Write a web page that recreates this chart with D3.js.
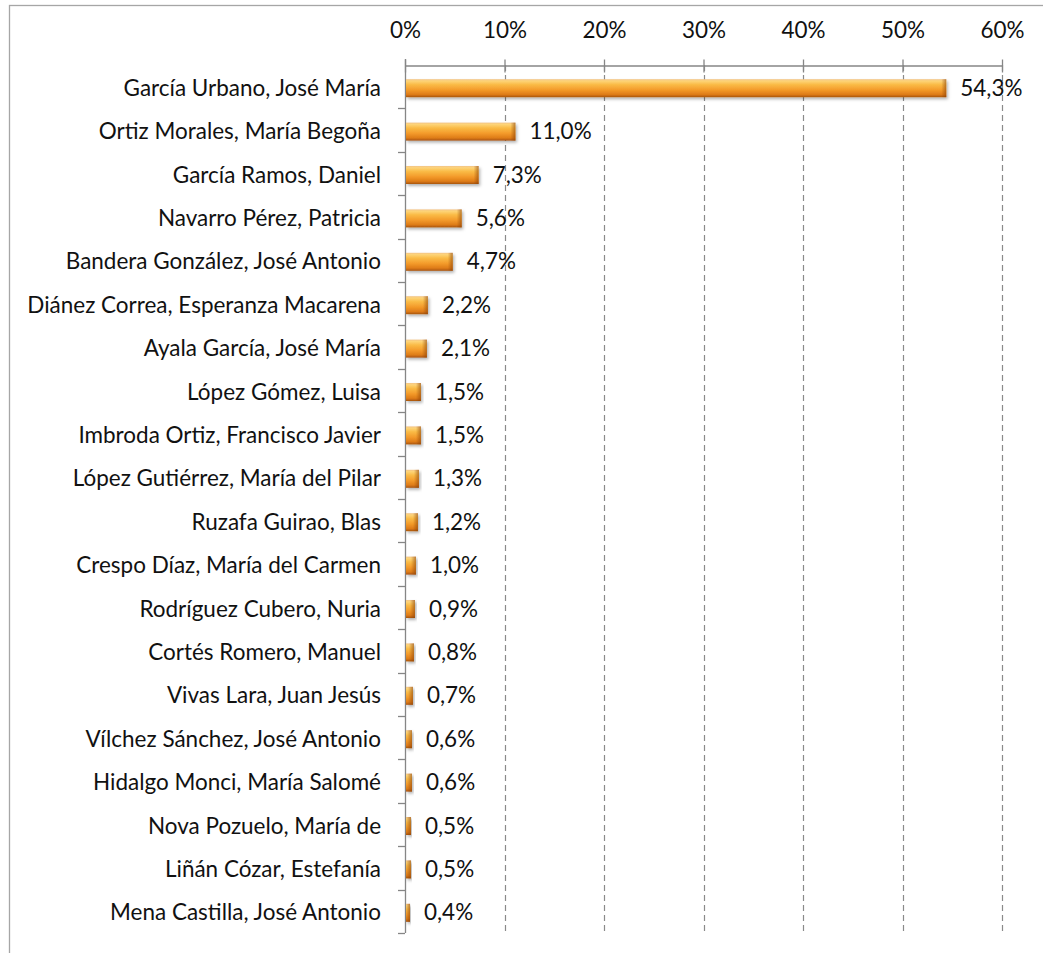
<!DOCTYPE html>
<html><head><meta charset="utf-8">
<script src="https://cdn.jsdelivr.net/npm/d3@7"></script>
<style>body{margin:0;background:#fff}svg{display:block}</style>
</head><body>
<svg id="c" width="1043" height="953"></svg>
<script>
const categories = ["García Urbano, José María","Ortiz Morales, María Begoña","García Ramos, Daniel","Navarro Pérez, Patricia","Bandera González, José Antonio","Diánez Correa, Esperanza Macarena","Ayala García, José María","López Gómez, Luisa","Imbroda Ortiz, Francisco Javier","López Gutiérrez, María del Pilar","Ruzafa Guirao, Blas","Crespo Díaz, María del Carmen","Rodríguez Cubero, Nuria","Cortés Romero, Manuel","Vivas Lara, Juan Jesús","Vílchez Sánchez, José Antonio","Hidalgo Monci, María Salomé","Nova Pozuelo, María de","Liñán Cózar, Estefanía","Mena Castilla, José Antonio"];
const values = [54.3,11.0,7.3,5.6,4.7,2.2,2.1,1.5,1.5,1.3,1.2,1.0,0.9,0.8,0.7,0.6,0.6,0.5,0.5,0.4];
const tickValues = [0,10,20,30,40,50,60];
const tickLabels = ["0%","10%","20%","30%","40%","50%","60%"];

const FONT = "Lato, 'Open Sans', sans-serif";
const svg = d3.select("#c");
const x = d3.scaleLinear().domain([0,60]).range([405,1002]);
const y = d3.scaleBand().domain(categories).range([65,933]).padding(0);

// defs
const defs = svg.append("defs");
const g1 = defs.append("linearGradient").attr("id","bar").attr("x1",0).attr("y1",0).attr("x2",0).attr("y2",1);
[[0,"#f3c488"],[0.1,"#fdd478"],[0.3,"#fabb46"],[0.6,"#f39a2a"],[0.85,"#de7c18"],[1,"#a8540e"]].forEach(s=>g1.append("stop").attr("offset",s[0]).attr("stop-color",s[1]));
const g2 = defs.append("linearGradient").attr("id","cap").attr("x1",0).attr("y1",0).attr("x2",1).attr("y2",0);
[[0,"rgba(140,65,5,0)"],[1,"rgba(140,65,5,0.6)"]].forEach(s=>g2.append("stop").attr("offset",s[0]).attr("stop-color",s[1]));
const f = defs.append("filter").attr("id","sh").attr("x","-20%").attr("y","-40%").attr("width","140%").attr("height","200%");
f.append("feDropShadow").attr("dx",1.5).attr("dy",2).attr("stdDeviation",1.5).attr("flood-color","#000").attr("flood-opacity",0.3);

// border
svg.append("rect").attr("x",9.5).attr("y",5.5).attr("width",1060).attr("height",1000)
  .attr("fill","none").attr("stroke","#a6a6a6").attr("stroke-width",1.3);

// grid
svg.append("g").selectAll("line").data(tickValues.slice(1)).join("line")
  .attr("x1",d=>Math.round(x(d))+0.5).attr("x2",d=>Math.round(x(d))+0.5)
  .attr("y1",65).attr("y2",933).attr("stroke","#8a8a8a").attr("stroke-width",1.2)
  .attr("stroke-dasharray","6,4");

// top axis
const xa = svg.append("g").attr("transform","translate(0,65.5)")
  .call(d3.axisTop(x).tickValues(tickValues).tickFormat((d,i)=>tickLabels[i]).tickSizeInner(6).tickSizeOuter(0).tickPadding(22));
xa.select(".domain").attr("stroke","#868686").attr("stroke-width",1.3);
xa.selectAll(".tick line").attr("stroke","#868686").attr("stroke-width",1.3).attr("y2",-6).attr("y1",7);
xa.selectAll(".tick text").attr("font-family",FONT).attr("font-size",19).attr("fill","#111");

// left axis
const ya = svg.append("g");
ya.append("line").attr("x1",405.5).attr("x2",405.5).attr("y1",59).attr("y2",933)
  .attr("stroke","#868686").attr("stroke-width",1.3);
const bounds = d3.range(categories.length+1).map(i=>y.range()[0]+i*y.step());
ya.selectAll(".ct").data(bounds.slice(1)).join("line").attr("class","ct")
  .attr("x1",398).attr("x2",405).attr("y1",d=>Math.round(d)+0.5).attr("y2",d=>Math.round(d)+0.5)
  .attr("stroke","#868686").attr("stroke-width",1.3);

// category labels
const labs = svg.append("g").selectAll("text").data(categories).join("text")
  .attr("x",381).attr("y",d=>y(d)+y.bandwidth()/2+1).attr("dy","0.36em")
  .attr("text-anchor","end").attr("font-family",FONT).attr("font-size",19).attr("fill","#111")
  .text(d=>d);
let maxW = 0; labs.each(function(){maxW=Math.max(maxW,this.getComputedTextLength());});
const fs = 19*354/maxW;
labs.attr("font-size",fs);
xa.selectAll(".tick text").attr("font-size",fs);

// bars
const bh = 18;
const bars = svg.append("g").selectAll("g").data(categories).join("g");
bars.append("rect").attr("x",x(0)+1).attr("y",d=>y(d)+y.bandwidth()/2+1.5-bh/2)
  .attr("width",(d,i)=>x(values[i])-x(0)).attr("height",bh)
  .attr("fill","url(#bar)").attr("filter","url(#sh)");
bars.append("rect").attr("x",(d,i)=>x(0)+1+Math.max(0,x(values[i])-x(0)-5)).attr("y",d=>y(d)+y.bandwidth()/2+1.5-bh/2)
  .attr("width",(d,i)=>Math.min(5,x(values[i])-x(0))).attr("height",bh)
  .attr("fill","url(#cap)");

// value labels
svg.append("g").selectAll("text").data(categories).join("text")
  .attr("x",(d,i)=>x(values[i])+15).attr("y",d=>y(d)+y.bandwidth()/2+1).attr("dy","0.36em")
  .attr("font-family",FONT).attr("font-size",fs).attr("fill","#111")
  .text((d,i)=>d3.format(".1f")(values[i]).replace(".",",")+"%");
</script>
</body></html>
